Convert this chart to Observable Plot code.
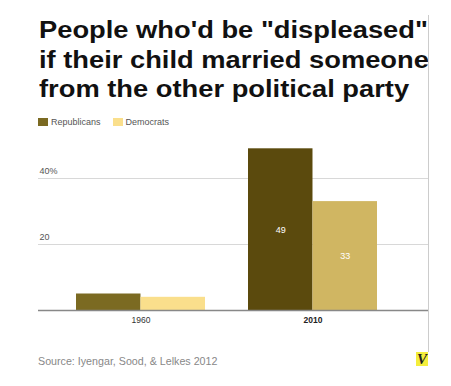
<!DOCTYPE html>
<html>
<head>
<meta charset="utf-8">
<script src="https://cdn.jsdelivr.net/npm/d3@7"></script>
<script src="https://cdn.jsdelivr.net/npm/@observablehq/plot@0.6"></script>
<style>
  html, body { margin: 0; padding: 0; background: #fff; }
  #wrap { position: relative; width: 451px; height: 386px; overflow: hidden; font-family: "Liberation Sans", Arial, sans-serif; }
  #title { position: absolute; left: 39px; top: 16px; margin: 0; font-size: 23px; line-height: 29.5px; font-weight: bold; color: #111; white-space: nowrap; transform: scaleX(1.187); transform-origin: 0 0; }
  #legend { position: absolute; left: 38px; top: 117px; font-size: 9px; color: #555; white-space: nowrap; }
  #legend span.item { display: inline-block; margin-right: 12px; }
  #legend span.sw { display: inline-block; width: 10px; height: 8px; margin-right: 3px; vertical-align: -1px; }
  #chart { position: absolute; left: 0; top: 135px; }
  #source { position: absolute; left: 38px; top: 355px; font-size: 10.7px; color: #888; white-space: nowrap; }
  #vline { position: absolute; left: 428px; top: 15px; width: 1px; height: 337px; background: #ccc; }
  #logo { position: absolute; left: 416px; top: 352px; width: 12px; height: 14px; background: #f4ee3c; font-family: "Liberation Serif", serif; font-weight: bold; font-style: italic; font-size: 15px; line-height: 14px; color: #222; text-align: center; overflow: hidden; }
</style>
</head>
<body>
<div id="wrap">
  <h1 id="title">People who'd be "displeased"<br>if their child married someone<br>from the other political party</h1>
  <div id="legend"></div>
  <div id="chart"></div>
  <div id="vline"></div>
  <div id="source">Source: Iyengar, Sood, &amp; Lelkes 2012</div>
  <div id="logo">V</div>
</div>
<script>
const years = ["1960", "2010"];
const parties = ["Republicans", "Democrats"];
const republicans = [5, 49];
const democrats = [4, 33];
const yTicks = [20, 40];
const repColors = ["#7b6a22", "#5b4a0d"];
const demColors = ["#fadf8c", "#d0b662"];
const legendColors = ["#7b6a22", "#fadf8c"];

const repData = years.map((yr, i) => ({year: yr, party: "Republicans", value: republicans[i], color: repColors[i]}));
const demData = years.map((yr, i) => ({year: yr, party: "Democrats", value: democrats[i], color: demColors[i]}));

// legend
const legend = document.getElementById("legend");
parties.forEach((p, i) => {
  const item = document.createElement("span");
  item.className = "item";
  const sw = document.createElement("span");
  sw.className = "sw";
  sw.style.background = legendColors[i];
  item.appendChild(sw);
  item.appendChild(document.createTextNode(p));
  legend.appendChild(item);
});

const W = 451, mL = 38, mR = 23;
const xOpts = {paddingInner: 0.25, paddingOuter: 0.2585, align: 0.427};
const bw = d3.scaleBand(years, [mL, W - mR])
  .paddingInner(xOpts.paddingInner).paddingOuter(xOpts.paddingOuter).align(xOpts.align).bandwidth();
const half = bw / 2;

const chart = Plot.plot({
  width: W,
  height: 200,
  marginTop: 10,
  marginBottom: 25,
  marginLeft: mL,
  marginRight: mR,
  style: {fontFamily: "Liberation Sans, Arial, sans-serif", background: "transparent"},
  x: {domain: years, ...xOpts, axis: null},
  y: {domain: [0, 50], axis: null},
  color: {type: "identity"},
  marks: [
    Plot.gridY(yTicks, {stroke: "#d8d8d8", strokeOpacity: 1}),
    Plot.text(yTicks, {y: d => d, text: d => d === 40 ? "40%" : String(d), frameAnchor: "left", textAnchor: "start", lineAnchor: "bottom", dx: 1, dy: -5, fontSize: 9, fill: "#555"}),
    Plot.barY(repData, {x: "year", y: "value", fill: "color", insetRight: half}),
    Plot.barY(demData, {x: "year", y: "value", fill: "color", insetLeft: half}),
    Plot.text(repData.filter(d => d.year === "2010"), {x: "year", y: d => d.value / 2, text: d => String(d.value), dx: -half / 2, fill: "#fff", fontSize: 9}),
    Plot.text(demData.filter(d => d.year === "2010"), {x: "year", y: d => d.value / 2, text: d => String(d.value), dx: half / 2, fill: "#fff", fontSize: 9}),
    Plot.ruleY([0], {stroke: "#888", strokeWidth: 1.5}),
    Plot.text(years.filter(y => y === "1960"), {x: d => d, text: d => d, frameAnchor: "bottom", lineAnchor: "bottom", dy: 12, fontSize: 8.5, fill: "#333"}),
    Plot.text(years.filter(y => y === "2010"), {x: d => d, text: d => d, frameAnchor: "bottom", lineAnchor: "bottom", dy: 12, fontSize: 8.5, fontWeight: "bold", fill: "#222"})
  ]
});
document.getElementById("chart").appendChild(chart);
</script>
</body>
</html>
